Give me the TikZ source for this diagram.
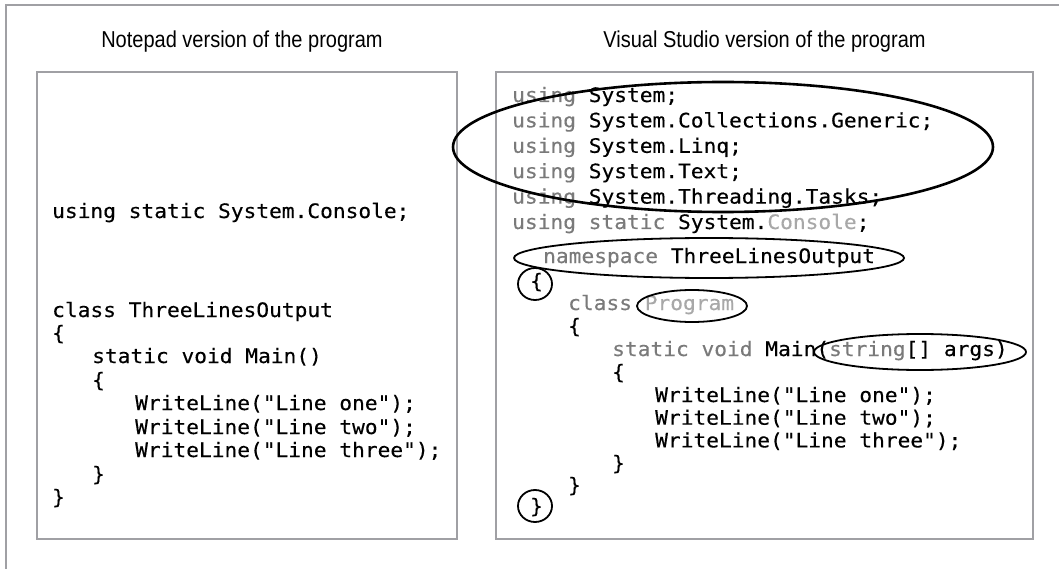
\documentclass[tikz,border=0pt]{standalone}
\usepackage{fontspec}
\setmainfont{Liberation Sans}[FakeStretch=0.87]
\newfontfamily\codefont{DejaVu Sans Mono}[FakeStretch=1.065, FakeBold=0.3]
\definecolor{framegray}{HTML}{A0A0A4}
\definecolor{kwgray}{HTML}{7A7A7A}
\definecolor{idgray}{HTML}{A8A8A8}
\newcommand\kw[1]{\textcolor{kwgray}{#1}}
\newcommand\idn[1]{\textcolor{idgray}{#1}}

\begin{document}
\begin{tikzpicture}[x=1pt, y=-1pt,
    code/.style={anchor=west, inner sep=0pt, text height=14pt, text depth=4pt,
      font=\codefont\fontsize{19.9}{22}\selectfont},
    title/.style={font=\fontsize{23}{26}\selectfont},
    box/.style={draw=framegray, line width=2pt, minimum width=420pt, minimum height=467pt},
    ring/.style={draw=black, line width=1.8pt}]
  \useasboundingbox (0,0) rectangle (1059,569);
  \draw [framegray, line width=2pt] (6,600) -- (6,5) -- (1080,5);

  % the two listings
  \node [box] (notepad) at (247,305.5) {};
  \node [box, minimum width=537pt] (studio) at (764.5,305.5) {};
  \node [title] (notepadtitle) at (242,42) {Notepad version of the program};
  \node [title] (studiotitle) at (764.5,42) {Visual Studio version of the program};

  % Notepad version
  \node [code] (lUsing) at (52,213) {using static System.Console;};
  \node [code] (lClass) at (52,312) {class ThreeLinesOutput};
  \node [code] (lOpen) at (52,335) {\{};
  \node [code] (lMain) at (92,358) {static void Main()};
  \node [code] (lMainOpen) at (92,382) {\{};
  \foreach \txt/\y [count=\i] in {one/405, two/429, three/452}
    \node [code] (lWrite\i) at (135,\y) {WriteLine("Line \txt");};
  \node [code] (lMainClose) at (92,476) {\}};
  \node [code] (lClose) at (52,499) {\}};

  % Visual Studio version
  \foreach \txt/\y [count=\i] in {System;/97, System.Collections.Generic;/122.4,
      System.Linq;/147.8, System.Text;/173.2, System.Threading.Tasks;/198.6}
    \node [code] (rUsing\i) at (512,\y) {\kw{using} \txt};
  \node [code] (rStatic) at (512,224) {\kw{using static} System.\idn{Console};};
  \node [code] (rSpace) at (543,258) {\kw{namespace} ThreeLinesOutput};
  \node [code] (rSpaceOpen) at (530,283) {\{};
  \node [code] (rClass) at (568,305) {\kw{class} \idn{Program}};
  \node [code] (rOpen) at (568,328) {\{};
  \node [code] (rMain) at (612,351) {\kw{static void} Main(\kw{string}[] args)};
  \node [code] (rMainOpen) at (612,374) {\{};
  \foreach \txt/\y [count=\i] in {one/397, two/419.7, three/442.4}
    \node [code] (rWrite\i) at (655,\y) {WriteLine("Line \txt");};
  \node [code] (rMainClose) at (612,465) {\}};
  \node [code] (rClose) at (568,487) {\}};
  \node [code] (rSpaceClose) at (530,508) {\}};

  % highlights
  \draw [ring, line width=2.6pt] (723,147) ellipse [x radius=270, y radius=65];
  \draw [ring] (709,258) ellipse [x radius=195, y radius=20];
  \draw [ring] (535,284) ellipse [x radius=17, y radius=16];
  \draw [ring] (692,306) ellipse [x radius=55, y radius=16];
  \draw [ring] (920,352) ellipse [x radius=106, y radius=18];
  \draw [ring] (535,506) ellipse [x radius=17, y radius=16];
\end{tikzpicture}
\end{document}
